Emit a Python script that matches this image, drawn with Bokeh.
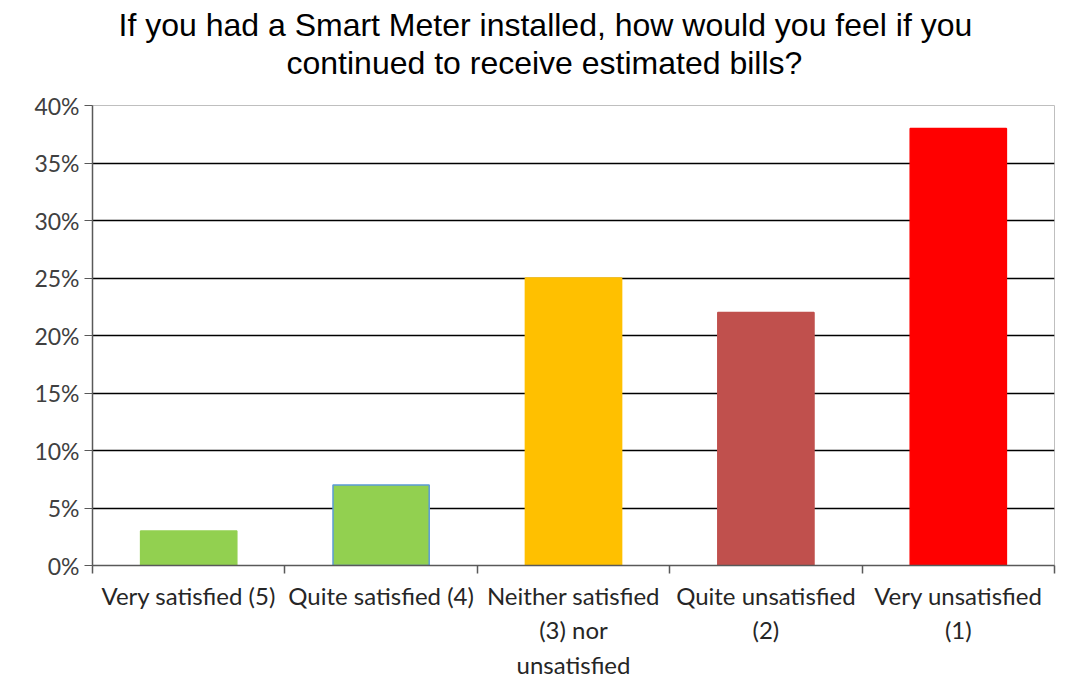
from bokeh.plotting import figure
from bokeh.models import ColumnDataSource, FixedTicker, NumeralTickFormatter, Range1d, Title
from bokeh.embed import file_html
from bokeh.resources import INLINE

categories = ["Very satisfied (5)", "Quite satisfied (4)", "Neither satisfied\n(3) nor\nunsatisfied",
              "Quite unsatisfied\n(2)", "Very unsatisfied\n(1)"]
values = [0.03, 0.07, 0.25, 0.22, 0.38]
colors = ["#92D050", "#92D050", "#FFC000", "#C0504D", "#FF0000"]
outlines = ["#92D050", "#5B9BD5", "#FFC000", "#C0504D", "#FF0000"]
y_ticks = [0, 0.05, 0.10, 0.15, 0.20, 0.25, 0.30, 0.35, 0.40]
title_lines = ["If you had a Smart Meter installed, how would you feel if you",
               "continued to receive estimated bills?"]

xpos = [i + 0.5 for i in range(len(categories))]
src = ColumnDataSource(dict(x=xpos, top=values, color=colors, line=outlines))

p = figure(width=1058, height=690, output_backend="svg", toolbar_location=None,
           x_range=Range1d(0, len(categories)), y_range=Range1d(0, 0.40),
           min_border_left=92, min_border_right=4, min_border_top=105, min_border_bottom=125)
p.title = None
# spacer between the plot frame and the two title lines
p.add_layout(Title(text=" ", text_font="Liberation Sans", text_font_size="10px", standoff=12), "above")
p.add_layout(Title(text=title_lines[1], align="left", offset=194,
                   text_font="Liberation Sans", text_font_size="32px", text_font_style="normal",
                   text_color="#000000", standoff=0), "above")
p.add_layout(Title(text=title_lines[0], align="left", offset=26,
                   text_font="Liberation Sans", text_font_size="32px", text_font_style="normal",
                   text_color="#000000", standoff=0), "above")

p.vbar(x="x", top="top", width=0.5, bottom=0, fill_color="color", line_color="line", line_width=1.5, source=src)

p.outline_line_color = "#BFBFBF"
p.outline_line_width = 1

p.xgrid.visible = False
p.ygrid.ticker = FixedTicker(ticks=y_ticks)
p.ygrid.grid_line_color = "#000000"
p.ygrid.grid_line_width = 1.3

p.yaxis.ticker = FixedTicker(ticks=y_ticks)
p.yaxis.formatter = NumeralTickFormatter(format="0%")
p.yaxis.axis_line_color = "#595959"
p.yaxis.axis_line_width = 1.5
p.yaxis.major_tick_line_color = "#595959"
p.yaxis.major_tick_in = 0
p.yaxis.major_tick_out = 8
p.yaxis.minor_tick_line_color = None
p.yaxis.major_label_text_font = "Lato"
p.yaxis.major_label_text_font_size = "23px"
p.yaxis.major_label_text_color = "#404040"
p.yaxis.major_label_standoff = 5

p.xaxis.ticker = FixedTicker(ticks=xpos, minor_ticks=[float(i) for i in range(len(categories) + 1)])
p.xaxis.major_label_overrides = {x: c for x, c in zip(xpos, categories)}
p.xaxis.axis_line_color = "#595959"
p.xaxis.axis_line_width = 1.5
p.xaxis.major_tick_line_color = None
p.xaxis.minor_tick_line_color = "#595959"
p.xaxis.minor_tick_line_width = 1.5
p.xaxis.minor_tick_in = 0
p.xaxis.minor_tick_out = 8
p.xaxis.major_label_text_font = "Lato"
p.xaxis.major_label_text_font_size = "24px"
p.xaxis.major_label_text_color = "#262626"
p.xaxis.major_label_standoff = 7

open("out.html", "w").write(file_html(p, INLINE))
